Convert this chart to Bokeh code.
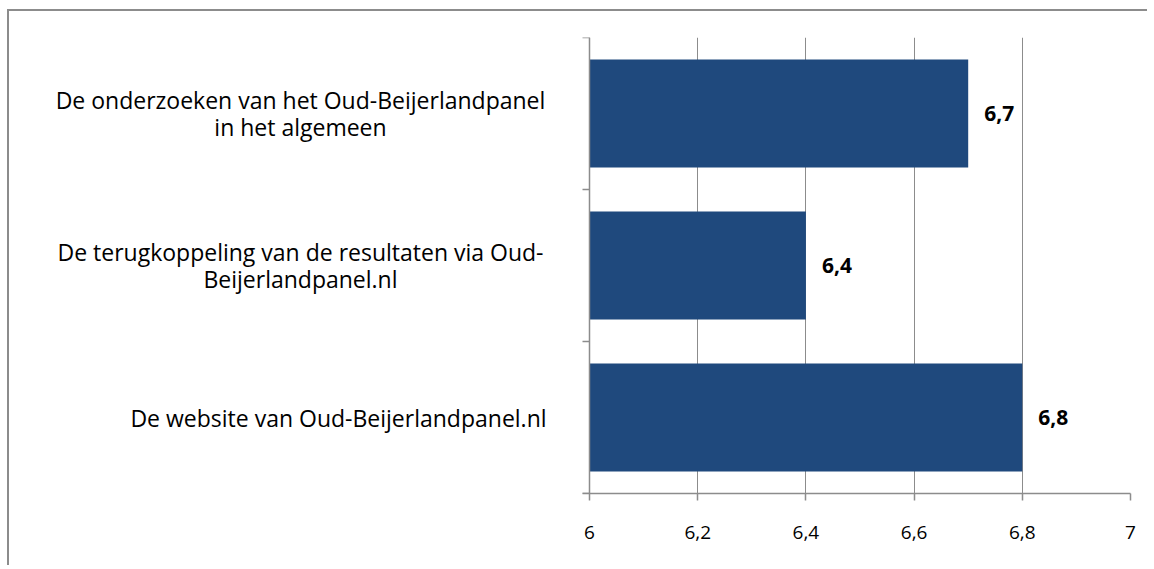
import math
from bokeh.plotting import figure
from bokeh.models import Range1d, FixedTicker, CustomJSTickFormatter, ColumnDataSource, Span
from bokeh.core.properties import value
from bokeh.embed import file_html
from bokeh.resources import INLINE

# ---- data ----
categories = [
    "De onderzoeken van het Oud-Beijerlandpanel\nin het algemeen",
    "De terugkoppeling van de resultaten via Oud-\nBeijerlandpanel.nl",
    "De website van Oud-Beijerlandpanel.nl",
]
values = [6.7, 6.4, 6.8]
x_ticks = [6, 6.2, 6.4, 6.6, 6.8, 7]

# ---- style / layout ----
FONT = "Open Sans"
GRAY = "#8c8c8c"
BAR = "#1F497D"
PX_PER_UNIT = 541          # width of the value axis (6..7) in pixels
LEFT_ROOM = 579            # pixels left of the value axis reserved for category texts
label_dx = [-289, -289, -251]   # horizontal offsets of the category texts (px)

x0, x1 = x_ticks[0], x_ticks[-1]
p = figure(width=1140, height=556, output_backend="svg", toolbar_location=None,
           x_range=Range1d(x0 - LEFT_ROOM / PX_PER_UNIT, x1), y_range=Range1d(len(categories), 0),
           y_axis_location=None,
           min_border_left=1, min_border_right=19, min_border_top=26, min_border_bottom=74)
p.outline_line_color = None
p.background_fill_color = "white"
p.border_fill_color = "white"
p.styles = {"margin-left": "7px", "margin-top": "9px",
            "border-top": "2px solid #8c8c8c", "border-left": "2px solid #8c8c8c"}

ypos = [i + 0.5 for i in range(len(categories))]
labs = [str(v).replace(".", ",") for v in values]
src = ColumnDataSource(dict(y=ypos, v=values, lab=labs, cat=categories, dx=label_dx))

# grid
p.xgrid.ticker = FixedTicker(ticks=x_ticks)
p.xgrid.grid_line_color = GRAY
p.xgrid.grid_line_width = 1
p.ygrid.visible = False

# bars
p.hbar(y="y", left=x0, right="v", height=0.71, source=src,
       fill_color=BAR, line_color=None)

# value labels
p.text(x="v", y="y", text="lab", source=src, x_offset=16,
       text_baseline="middle", text_align="left", text_font=value(FONT),
       text_font_size="21px", text_font_style="bold", text_color="black")

# category axis: line at x0, tick marks at category boundaries, centred texts
p.add_layout(Span(location=x0, dimension="height", line_color=GRAY, line_width=1.5))
p.ray(x=x0, y=list(range(len(categories) + 1)), length=7, length_units="screen",
      angle=math.pi, line_color=GRAY, line_width=1.5)
p.text(x=x0, y="y", text="cat", source=src, x_offset="dx",
       text_align="center", text_baseline="middle", text_font=value(FONT),
       text_font_size="23px", text_color="black", text_line_height=0.84)

# x axis
xa = p.xaxis[0]
xa.bounds = (x0 - 7 / PX_PER_UNIT, x1)
xa.ticker = FixedTicker(ticks=x_ticks)
xa.formatter = CustomJSTickFormatter(code="return (Math.round(tick*10)/10).toString().replace('.', ',');")
xa.major_tick_out = 7
xa.major_tick_in = 0
xa.minor_tick_line_color = None
xa.axis_line_color = GRAY
xa.axis_line_width = 1.5
xa.major_tick_line_color = GRAY
xa.major_tick_line_width = 1.5
xa.major_label_standoff = 25
xa.major_label_text_font = FONT
xa.major_label_text_font_size = "19px"
xa.major_label_text_color = "black"

open("out.html", "w").write(file_html(p, INLINE))
